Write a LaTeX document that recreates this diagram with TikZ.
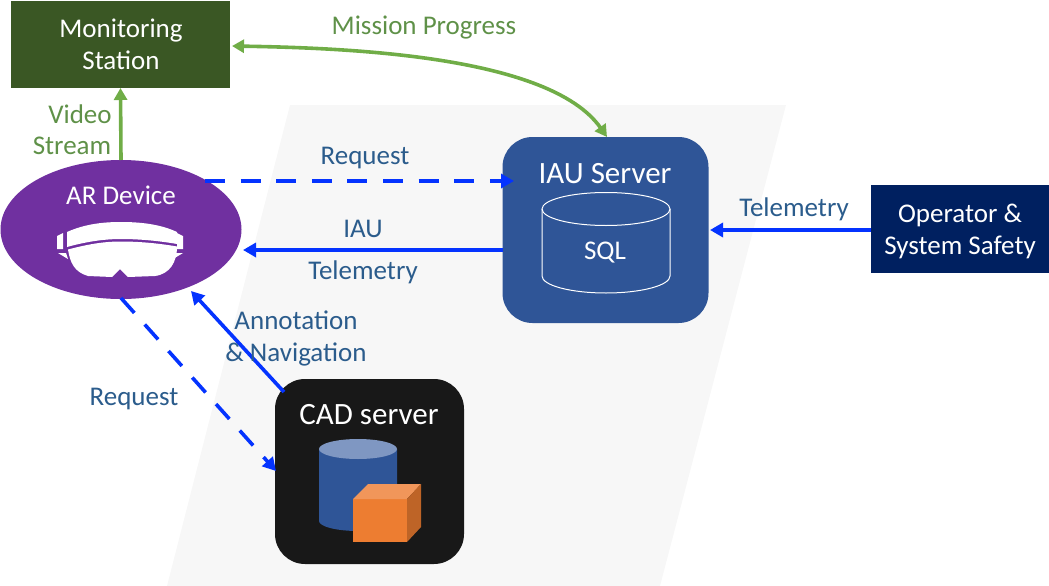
\documentclass[tikz,border=0pt]{standalone}
\usepackage{fontspec}
\setmainfont{Carlito}
\usetikzlibrary{arrows.meta,shapes.geometric}
\definecolor{mongreen}{HTML}{3A5724}
\definecolor{argreen}{HTML}{70AD47}
\definecolor{lblgreen}{HTML}{5F9148}
\definecolor{arpurple}{HTML}{7030A0}
\definecolor{srvblue}{HTML}{2F5597}
\definecolor{cadblack}{HTML}{181818}
\definecolor{navy}{HTML}{002060}
\definecolor{arrblue}{HTML}{0433FF}
\definecolor{lblblue}{HTML}{2B5C8C}
\definecolor{bgband}{HTML}{F7F7F7}
\definecolor{cyltop}{HTML}{7F97C2}
\definecolor{cubefront}{HTML}{ED7D31}
\definecolor{cubetop}{HTML}{F1965A}
\definecolor{cubeside}{HTML}{BE6427}
\tikzset{
  boxbase/.style={inner sep=0pt,outer sep=0pt,minimum width=#1,align=center,text=white},
  txt/.style={font=\fontsize{27}{32}\selectfont,inner sep=0pt,align=center},
  bluelbl/.style={txt,text=lblblue},
  greenlbl/.style={txt,text=lblgreen},
  whitelbl/.style={txt,text=white},
  titlelbl/.style={whitelbl,font=\fontsize{31}{36}\selectfont},
  conn/.style={line width=3.6pt,arrblue,-{Triangle[length=13pt,width=14pt]}},
  dconn/.style={conn,dash pattern=on 20pt off 15.6pt},
  gconn/.style={line width=3.6pt,argreen,-{Triangle[length=12pt,width=13pt]}}
}
\begin{document}
\begin{tikzpicture}[x=1pt,y=-1pt]
\useasboundingbox (0,0) rectangle (1049,586);
\fill[bgband] (290,105) -- (786,105) -- (660,586) -- (167,586) -- cycle;
% boxes
\node[boxbase=219pt,minimum height=87pt,fill=mongreen] (mon) at (120.5,44.5) {};
\node[ellipse,boxbase=241pt,minimum height=139pt,fill=arpurple] (ar) at (121,229.5) {};
\node[rectangle,rounded corners=30pt,boxbase=206pt,minimum height=186pt,fill=srvblue] (iau) at (605.5,230) {};
\node[rectangle,rounded corners=30pt,boxbase=189pt,minimum height=185pt,fill=cadblack] (cad) at (369.5,471.5) {};
\node[boxbase=178pt,minimum height=88pt,fill=navy] (op) at (960,229) {};
% box texts
\node[whitelbl] (montxt) at (121,44) {Monitoring\\Station};
\node[whitelbl] (artxt) at (121,195) {AR Device};
\node[titlelbl] (iautxt) at (605,174) {IAU Server};
\node[titlelbl] (cadtxt) at (369,415) {CAD server};
\node[whitelbl] (optxt) at (960,231) {Operator \&\\System Safety};
% SQL cylinder
\draw[white,line width=1pt] (542,209) -- (542,276) arc[start angle=180,end angle=0,x radius=64,y radius=17] -- (670,209);
\draw[white,line width=1pt] (606,209) ellipse[x radius=64,y radius=16.5];
\node[whitelbl] (sql) at (605,253) {SQL};
% CAD cylinder
\fill[srvblue] (319,449) -- (319,521) arc[start angle=180,end angle=0,x radius=39,y radius=10] -- (397,449) -- cycle;
\fill[cyltop] (358,449) ellipse[x radius=39,y radius=10];
% cube
\fill[cubefront] (353,499) rectangle (407,542);
\fill[cubetop] (353,499) -- (368,484) -- (421,484) -- (407,499) -- cycle;
\fill[cubeside] (407,499) -- (421,484) -- (421,527) -- (407,542) -- cycle;
% goggles
\fill[white] (67,232) .. controls (85,224) and (103,222) .. (121,222) .. controls (140,222) and (160,224) .. (177,232)
  -- (177,244) .. controls (160,241) and (140,239) .. (121,239) .. controls (103,239) and (85,242) .. (67,247) -- cycle;
\fill[white] (68,249.5) .. controls (87,244.5) and (103,241.5) .. (121,241.5) .. controls (140,241.5) and (160,243.5) .. (177,246.5)
  .. controls (177,262) and (170,274) .. (155,276) -- (128,277) -- (120,269) -- (112,277) -- (88,276) .. controls (74,272) and (70,262) .. (68,249.5) -- cycle;
\fill[white] (57,236) -- (63,233) -- (63,249) -- (57,249) -- cycle;
\fill[white] (183,236) -- (177,233) -- (177,249) -- (183,249) -- cycle;
\fill[white] (58,253) -- (66,253) -- (68,259) -- cycle;
\fill[white] (183,253) -- (175,253) -- (173,259) -- cycle;
% free ends
\coordinate (reqA) at (205,181);
\coordinate (reqB) at (514,181);
\coordinate (telA) at (503,250);
\coordinate (telB) at (243,250);
\coordinate (opA) at (871,230);
\coordinate (opB) at (710,230);
\coordinate (annA) at (284,392);
\coordinate (annB) at (191,291);
\coordinate (dnA) at (121,298);
\coordinate (dnB) at (276,471);
\coordinate (misA) at (232,46);
\coordinate (misB) at (607,137);
% connectors
\draw[gconn] (ar.north) -- (mon.south);
\draw[line width=3.6pt,argreen,{Triangle[length=12pt,width=13pt]}-{Triangle[length=12pt,width=13pt]}] (misA) .. controls (350,48) and (550,56) .. (misB);
\draw[dconn] (reqA) -- (reqB);
\draw[conn] (telA) -- (telB);
\draw[conn] (opA) -- (opB);
\draw[conn] (annA) -- (annB);
\draw[dconn] (dnA) -- (dnB);
% labels
\node[greenlbl] (lmis) at (424,28) {Mission Progress};
\node[greenlbl] (lvid) at (80,114) {Video};
\node[greenlbl] (lstr) at (72,146) {Stream};
\node[bluelbl] (lreq) at (365,158) {Request};
\node[bluelbl] (liau) at (363,229) {IAU};
\node[bluelbl] (ltel) at (363,272) {Telemetry};
\node[bluelbl] (ltel2) at (794,209) {Telemetry};
\node[bluelbl] (lann) at (296,338) {Annotation\\\& Navigation};
\node[bluelbl] (lreq2) at (134,399) {Request};
\end{tikzpicture}
\end{document}
